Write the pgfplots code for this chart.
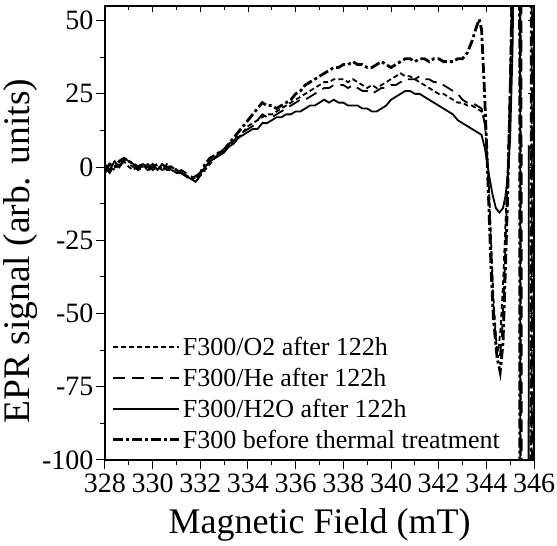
\documentclass[border=0pt]{standalone}
\usepackage{fontspec}
\setmainfont{Liberation Serif}
\usepackage{pgfplots}
\pgfplotsset{compat=1.18}

\begin{document}
\begin{tikzpicture}
\begin{axis}[name=ax, scale only axis, width=429pt, height=454pt,
  xmin=328, xmax=346, ymin=-100, ymax=55,
  xtick={328,330,332,334,336,338,340,342,344,346},
  xticklabels={328,330,332,334,336,338,340,342,344,346},
  ytick={-100,-75,-50,-25,0,25,50},
  yticklabels={-100,-75,-50,-25,0,25,50},
  minor x tick num=1, minor y tick num=1,
  tick pos=left, tick align=outside,
  major tick length=9pt, minor tick length=5pt,
  every tick/.style={black, line width=1pt},
  axis line style={line width=1.3pt},
  ticklabel style={font=\fontsize{28}{32}\selectfont},
  xticklabel style={yshift=-1pt},
  yticklabel style={xshift=1pt},
  xlabel={Magnetic Field (mT)}, ylabel={EPR signal (arb. units)},
  xlabel style={font=\fontsize{36}{40}\selectfont, yshift=-9pt},
  ylabel style={font=\fontsize{37.5}{40}\selectfont, at={(ticklabel cs:0.46)}, yshift=-2pt},
  legend cell align=left,
  legend style={at={(0.016,0.018)}, anchor=south west, draw=none, fill=none,
    font=\fontsize{26}{30}\selectfont, row sep=7pt, inner sep=0pt},
  legend image code/.code={\draw[#1] (0pt,0pt) -- (66pt,0pt);},
]
\addplot[black, line width=1.8pt, dash pattern=on 5pt off 3pt] coordinates {
(328.0,-2)(328.2,0)(328.4,-1)(328.6,1)(328.8,2)(329.0,0)(329.2,-1)(329.4,1)(329.6,0)(329.8,-1)
(330.0,1)(330.2,0)(330.4,-1)(330.6,1)(330.8,0)(331.0,-1)(331.2,-2)(331.4,-3)(331.6,-3)(331.8,-4)
(332.0,-3)(332.2,-1)(332.4,1)(332.6,3)(332.8,4)(333.0,6)(333.2,7)(333.4,9)(333.6,10)(333.8,12)
(334.0,14)(334.2,15)(334.4,16)(334.6,17)(334.8,18)(335.0,18)(335.2,19)(335.4,20)(335.6,21)(335.8,22)
(336.0,23)(336.2,24)(336.4,25)(336.6,26)(336.8,27)(337.0,28)(337.2,29)(337.4,29)(337.6,30)(337.8,30)
(338.0,30)(338.2,29)(338.4,30)(338.6,29)(338.8,28)(339.0,27)(339.2,28)(339.4,27)(339.6,28)(339.8,29)
(340.0,30)(340.2,31)(340.4,32)(340.6,31)(340.8,31)(341.0,30)(341.2,29)(341.4,28)(341.6,27)(341.8,26)
(342.0,25)(342.2,25)(342.4,24)(342.6,23)(342.8,22)(343.0,22)(343.2,21)(343.4,21)(343.6,20)(343.8,19)
(343.95,15)(344.1,-5)(344.2,-25)(344.3,-45)(344.42,-60)(344.5,-63)(344.6,-55)(344.7,-40)(344.8,-20)
(344.9,0)(345.0,30)(345.08,60)(345.13,400)(345.42,400)(345.46,-400)(345.88,-400)(345.93,400)(346,400)
};
\addlegendentry{F300/O2 after 122h}
\addplot[black, line width=1.8pt, dash pattern=on 12pt off 7pt] coordinates {
(328.0,0)(328.2,-2)(328.4,1)(328.6,0)(328.8,2)(329.0,1)(329.2,0)(329.4,-1)(329.6,0)(329.8,1)
(330.0,-1)(330.2,0)(330.4,1)(330.6,-1)(330.8,-1)(331.0,-2)(331.2,-1)(331.4,-2)(331.6,-4)(331.8,-5)
(332.0,-3)(332.2,0)(332.4,2)(332.6,3)(332.8,5)(333.0,6)(333.2,8)(333.4,9)(333.6,11)(333.8,12)
(334.0,13)(334.2,14)(334.4,16)(334.6,18)(334.8,17)(335.0,17)(335.2,18)(335.4,19)(335.6,20)(335.8,21)
(336.0,22)(336.2,23)(336.4,23)(336.6,24)(336.8,25)(337.0,26)(337.2,27)(337.4,27)(337.6,28)(337.8,28)
(338.0,28)(338.2,27)(338.4,28)(338.6,27)(338.8,26)(339.0,26)(339.2,25)(339.4,26)(339.6,27)(339.8,27)
(340.0,28)(340.2,28)(340.4,29)(340.6,30)(340.8,30)(341.0,30)(341.2,31)(341.4,30)(341.6,30)(341.8,29)
(342.0,29)(342.2,28)(342.4,27)(342.6,26)(342.8,25)(343.0,23)(343.2,22)(343.4,22)(343.6,21)(343.8,20)
(343.95,14)(344.1,-8)(344.2,-28)(344.3,-48)(344.45,-64)(344.55,-66)(344.65,-58)(344.75,-40)(344.85,-15)
(344.95,10)(345.03,40)(345.1,70)(345.14,400)(345.46,400)(345.5,-400)(345.9,-400)(345.95,400)(346,400)
};
\addlegendentry{F300/He after 122h}
\addplot[black, line width=1.8pt] coordinates {
(328.0,1)(328.2,-1)(328.4,2)(328.6,0)(328.8,3)(329.0,2)(329.2,1)(329.4,-1)(329.6,1)(329.8,0)
(330.0,1)(330.2,-1)(330.4,1)(330.6,0)(330.8,-1)(331.0,-2)(331.2,-2)(331.4,-3)(331.6,-4)(331.8,-3)
(332.0,-2)(332.2,0)(332.4,2)(332.6,3)(332.8,4)(333.0,5)(333.2,7)(333.4,8)(333.6,10)(333.8,11)
(334.0,12)(334.2,13)(334.4,13)(334.6,15)(334.8,15)(335.0,16)(335.2,17)(335.4,17)(335.6,18)(335.8,18)
(336.0,19)(336.2,19)(336.4,20)(336.6,21)(336.8,21)(337.0,22)(337.2,23)(337.4,22)(337.6,23)(337.8,22)
(338.0,22)(338.2,21)(338.4,21)(338.6,21)(338.8,20)(339.0,20)(339.2,19)(339.4,19)(339.6,20)(339.8,21)
(340.0,23)(340.2,24)(340.4,25)(340.6,26)(340.8,26)(341.0,25)(341.2,25)(341.4,24)(341.6,23)(341.8,22)
(342.0,21)(342.2,20)(342.4,19)(342.6,18)(342.8,16)(343.0,15)(343.2,14)(343.4,13)(343.6,12)(343.8,11)
(343.95,6)(344.1,-2)(344.25,-9)(344.4,-14)(344.55,-15.5)(344.7,-14)(344.8,-10)(344.9,-3)(345.0,10)
(345.1,40)(345.15,70)(345.2,400)(345.4,400)(345.44,-400)(345.76,-400)(345.78,7)(345.9,6)(346.0,4)
};
\addlegendentry{F300/H2O after 122h}
\addplot[black, line width=2.8pt, dash pattern=on 10pt off 3pt on 3pt off 3pt] coordinates {
(328.0,-1)(328.2,1)(328.4,0)(328.6,2)(328.8,3)(329.0,2)(329.2,1)(329.4,0)(329.6,1)(329.8,-1)
(330.0,0)(330.2,1)(330.4,-1)(330.6,0)(330.8,0)(331.0,-1)(331.2,-2)(331.4,-3)(331.6,-4)(331.8,-4)
(332.0,-2)(332.2,1)(332.4,3)(332.6,4)(332.8,5)(333.0,6)(333.2,8)(333.4,10)(333.6,12)(333.8,14)
(334.0,16)(334.2,18)(334.4,20)(334.6,22)(334.8,21)(335.0,21)(335.2,20)(335.4,21)(335.6,22)(335.8,23)
(336.0,25)(336.2,26)(336.4,28)(336.6,29)(336.8,30)(337.0,31)(337.2,32)(337.4,33)(337.6,34)(337.8,34)
(338.0,35)(338.2,35)(338.4,36)(338.6,35)(338.8,35)(339.0,34)(339.2,34)(339.4,35)(339.6,36)(339.8,35)
(340.0,34)(340.2,35)(340.4,36)(340.6,37)(340.8,37)(341.0,36)(341.2,37)(341.4,37)(341.6,36)(341.8,37)
(342.0,37)(342.2,36)(342.4,36)(342.6,36)(342.8,37)(343.0,37)(343.2,39)(343.4,43)(343.55,47)(343.7,50.5)
(343.8,47)(343.9,30)(344.0,10)(344.1,-12)(344.2,-35)(344.3,-52)(344.45,-65)(344.58,-70)(344.7,-60)
(344.8,-35)(344.9,-8)(345.0,25)(345.08,60)(345.12,400)(345.38,400)(345.42,-400)(345.86,-400)(345.9,400)(346.0,400)
};
\addlegendentry{F300 before thermal treatment}
\end{axis}
\begin{axis}[scale only axis, width=429pt, height=454pt,
  xmin=328, xmax=346, ymin=-100, ymax=55,
  xtick={328,330,...,346}, ytick={-100,-75,...,50},
  minor x tick num=1, minor y tick num=1,
  xticklabels={}, yticklabels={},
  tick pos=right, tick align=inside,
  major tick length=6pt, minor tick length=4pt,
  every tick/.style={black, line width=1pt},
  axis line style={line width=1.3pt},
]
\end{axis}
\pgfresetboundingbox
\path[use as bounding box] ([shift={(-105pt,-86pt)}]ax.south west) rectangle ([shift={(23pt,6pt)}]ax.north east);
\end{tikzpicture}
\end{document}
